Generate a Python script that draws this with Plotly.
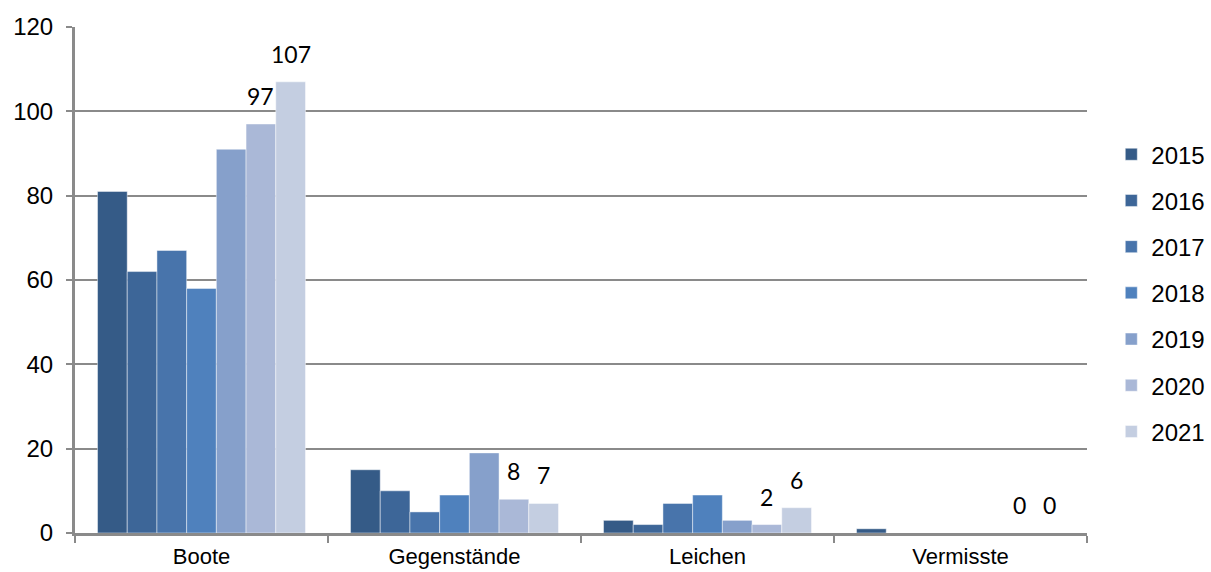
import plotly.graph_objects as go

categories = ["Boote", "Gegenstände", "Leichen", "Vermisste"]
years = ["2015", "2016", "2017", "2018", "2019", "2020", "2021"]
values_2015 = [81, 15, 3, 1]
values_2016 = [62, 10, 2, 0]
values_2017 = [67, 5, 7, 0]
values_2018 = [58, 9, 9, 0]
values_2019 = [91, 19, 3, 0]
values_2020 = [97, 8, 2, 0]
values_2021 = [107, 7, 6, 0]
series = [values_2015, values_2016, values_2017, values_2018,
          values_2019, values_2020, values_2021]
colors = ["#355b87", "#3d6698", "#4874ab", "#4f81bd",
          "#86a0cb", "#aab8d7", "#c4cee1"]
labelled_years = ["2020", "2021"]

y_ticks = [0, 20, 40, 60, 80, 100, 120]

AXIS_GREY = "#8a8a8a"
FONT_AXIS = "Liberation Sans, Arial, sans-serif"
FONT_LABEL = "Lato, Calibri, sans-serif"

fig = go.Figure()
for year, vals, col in zip(years, series, colors):
    fig.add_trace(go.Bar(
        name=year, x=categories, y=vals,
        marker=dict(color=col, line=dict(color="rgba(255,255,255,0.45)", width=1)),
        legendgroup=year,
    ))

# Geometry of the plot area used to place value labels over their bars
W, H = 1211, 572
m_l, m_r, m_t, m_b = 75, 124, 27, 39
bargap = 0.178
plot_w = W - m_l - m_r
slot = plot_w / len(categories) * (1 - bargap) / len(years)

annotations = []
for year, vals in zip(years, series):
    if year not in labelled_years:
        continue
    idx = years.index(year)
    shift = (idx - (len(years) - 1) / 2) * slot
    for cat, v in zip(categories, vals):
        annotations.append(dict(
            x=cat, y=v, text=str(v), showarrow=False,
            xshift=shift, yshift=28, yanchor="middle",
            font=dict(family=FONT_LABEL, size=23, color="#000000"),
        ))

fig.update_layout(
    width=W, height=H,
    margin=dict(l=m_l, r=m_r, t=m_t, b=m_b, autoexpand=False),
    paper_bgcolor="white", plot_bgcolor="white",
    barmode="group", bargap=bargap, bargroupgap=0,
    annotations=annotations,
    legend=dict(
        x=1.024, y=0.474, xanchor="left", yanchor="middle",
        font=dict(family=FONT_AXIS, size=24, color="#000000"),
        tracegroupgap=12, itemwidth=30,
    ),
    xaxis=dict(
        type="category", showline=True, linecolor=AXIS_GREY, linewidth=3,
        ticks="outside", tickson="boundaries", ticklen=7, tickwidth=2,
        tickcolor=AXIS_GREY, showgrid=False, ticklabelstandoff=2,
        tickfont=dict(family=FONT_AXIS, size=22, color="#000000"),
    ),
    yaxis=dict(
        range=[0, 120], tickvals=y_ticks, showline=True, linecolor=AXIS_GREY,
        linewidth=3, ticks="outside", ticklen=6, tickwidth=2, tickcolor=AXIS_GREY,
        showgrid=True, gridcolor=AXIS_GREY, gridwidth=2, zeroline=False,
        ticklabelstandoff=8,
        tickfont=dict(family=FONT_AXIS, size=24, color="#000000"),
    ),
)

fig.write_html("out.html")
